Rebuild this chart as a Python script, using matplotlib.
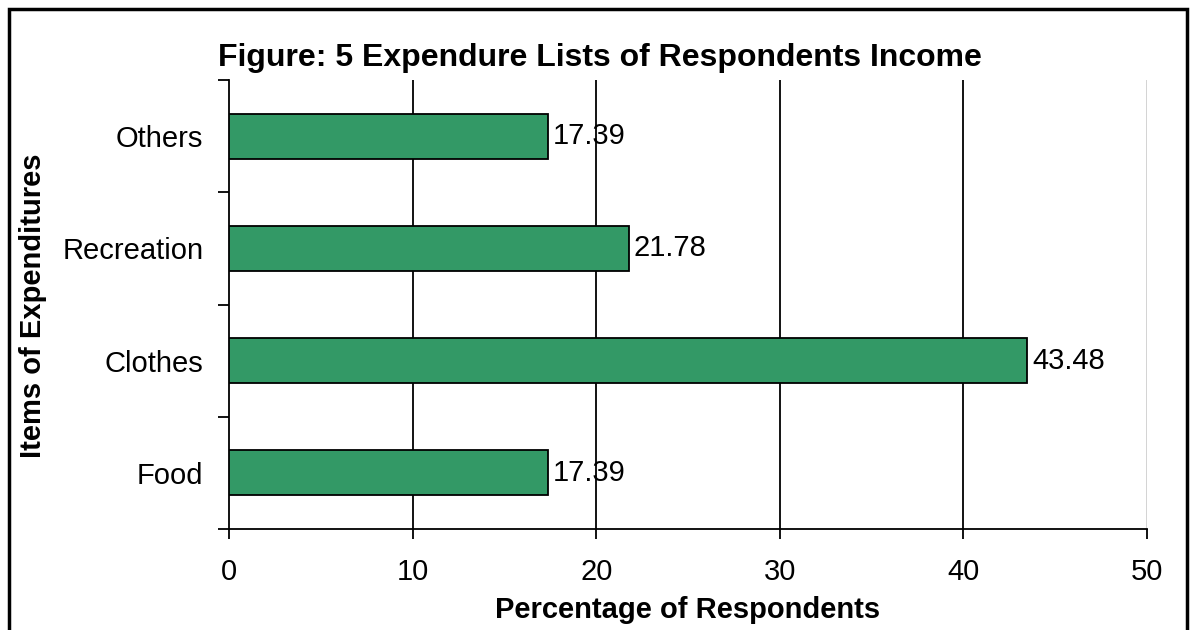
import matplotlib
matplotlib.use("Agg")
import matplotlib.pyplot as plt
from matplotlib.patches import Rectangle

plt.rcParams['font.family'] = ['Liberation Sans', 'DejaVu Sans']

categories = ["Food", "Clothes", "Recreation", "Others"]
values = [17.39, 43.48, 21.78, 17.39]
x_ticks = [0, 10, 20, 30, 40, 50]

W, H = 1193, 630
fig = plt.figure(figsize=(W / 100, H / 100), dpi=100)

# plot area in pixel coordinates
left, right, top, bottom = 229, 1147, 80, 529
ax = fig.add_axes([left / W, 1 - bottom / H, (right - left) / W, (bottom - top) / H])

FS = 21

ypos = list(range(len(categories)))
ax.barh(ypos, values, height=0.4, color="#339966", edgecolor="black", linewidth=1.3, zorder=3)
for y, v in zip(ypos, values):
    ax.text(v + 0.25, y, f"{v:.2f}", va="center", ha="left", fontsize=FS, zorder=4)

ax.set_xlim(0, 50)
ax.set_ylim(-0.5, len(categories) - 0.5)
ax.set_xticks(x_ticks)
ax.set_xticklabels([str(t) for t in x_ticks], fontsize=FS)
ax.set_yticks(ypos)
ax.set_yticklabels(categories, fontsize=FS)
ax.tick_params(axis='y', length=0, pad=18.5)
ax.tick_params(axis='x', length=7, width=1.3, pad=14, direction='out')

# category boundary ticks on the y axis
ax.set_yticks([i - 0.5 for i in range(len(categories) + 1)], minor=True)
ax.tick_params(axis='y', which='minor', length=8, width=1.3, direction='out')

for t in x_ticks[1:-1]:
    ax.axvline(t, color="black", linewidth=1.3, zorder=1)
ax.axvline(50, color="#d0d0d0", linewidth=1.3, zorder=1)

for s in ["top", "right"]:
    ax.spines[s].set_visible(False)
for s in ["left", "bottom"]:
    ax.spines[s].set_linewidth(1.3)

ax.set_xlabel("Percentage of Respondents", fontsize=FS, fontweight="bold")
ax.xaxis.set_label_coords(688 / W, 1 - 610 / H, transform=fig.transFigure)
ax.xaxis.label.set_va("center")
ax.set_ylabel("Items of Expenditures", fontsize=FS, fontweight="bold")
ax.yaxis.set_label_coords(33 / W, 1 - 306 / H, transform=fig.transFigure)
ax.yaxis.label.set_va("center")

fig.text(600 / W, 1 - 66 / H, "Figure: 5 Expendure Lists of Respondents Income",
         ha="center", va="baseline", fontsize=23, fontweight="bold")

# outer frame
fig.patches.append(Rectangle((9 / W, -0.05), (1187 - 9) / W, 1 - 9 / H + 0.05,
                             transform=fig.transFigure, fill=False,
                             edgecolor="black", linewidth=2.5, zorder=10))

fig.savefig("out.png", dpi=100)
